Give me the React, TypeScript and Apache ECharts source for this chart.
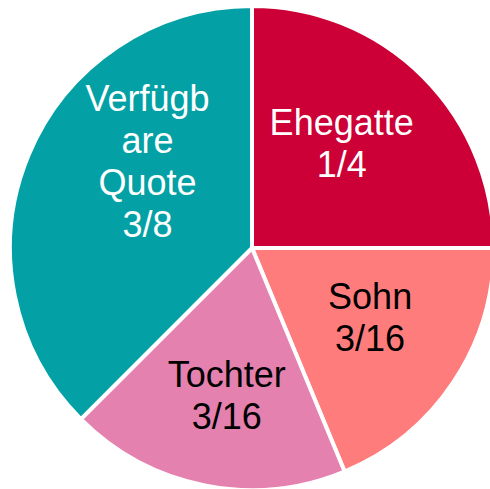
import React, { useEffect, useRef } from "react";
import * as echarts from "echarts";

const categories = ["Ehegatte", "Sohn", "Tochter", "Verfügbare Quote"];
const displayNames = ["Ehegatte", "Sohn", "Tochter", "Verfügb\nare\nQuote"];
const values = [4, 3, 3, 6]; // sixteenths
const fractionLabels = ["1/4", "3/16", "3/16", "3/8"];
const colors = ["#CC0036", "#FF7C7C", "#E581AE", "#03A1A5"];
const labelColors = ["#ffffff", "#000000", "#000000", "#ffffff"];
const labelShift = [
  [2, -17],
  [15, 1],
  [-1, 26],
  [10, -39],
];

export default function App() {
  const ref = useRef<HTMLDivElement>(null);
  useEffect(() => {
    if (!ref.current) return;
    const chart = echarts.init(ref.current, undefined, { renderer: "svg" });
    chart.setOption({
      animation: false,
      backgroundColor: "#ffffff",
      series: [
        {
          type: "pie",
          center: [252, 248],
          radius: [0, 242],
          startAngle: 90,
          clockwise: true,
          avoidLabelOverlap: false,
          itemStyle: { borderColor: "#ffffff", borderWidth: 4 },
          label: {
            show: true,
            position: "inside",
            fontFamily: "Liberation Sans, Arial, sans-serif",
            fontSize: 36,
            lineHeight: 42,
            align: "center",
          },
          labelLine: { show: false },
          labelLayout: (p: any) => ({
            dx: labelShift[p.dataIndex][0],
            dy: labelShift[p.dataIndex][1],
          }),
          data: categories.map((c, i) => ({
            name: c,
            value: values[i],
            itemStyle: { color: colors[i] },
            label: {
              color: labelColors[i],
              formatter: displayNames[i] + "\n" + fractionLabels[i],
            },
          })),
        },
      ],
    });
    return () => chart.dispose();
  }, []);
  return (
    <div
      ref={ref}
      style={{ position: "fixed", left: 0, top: 0, width: 490, height: 489 }}
    />
  );
}
